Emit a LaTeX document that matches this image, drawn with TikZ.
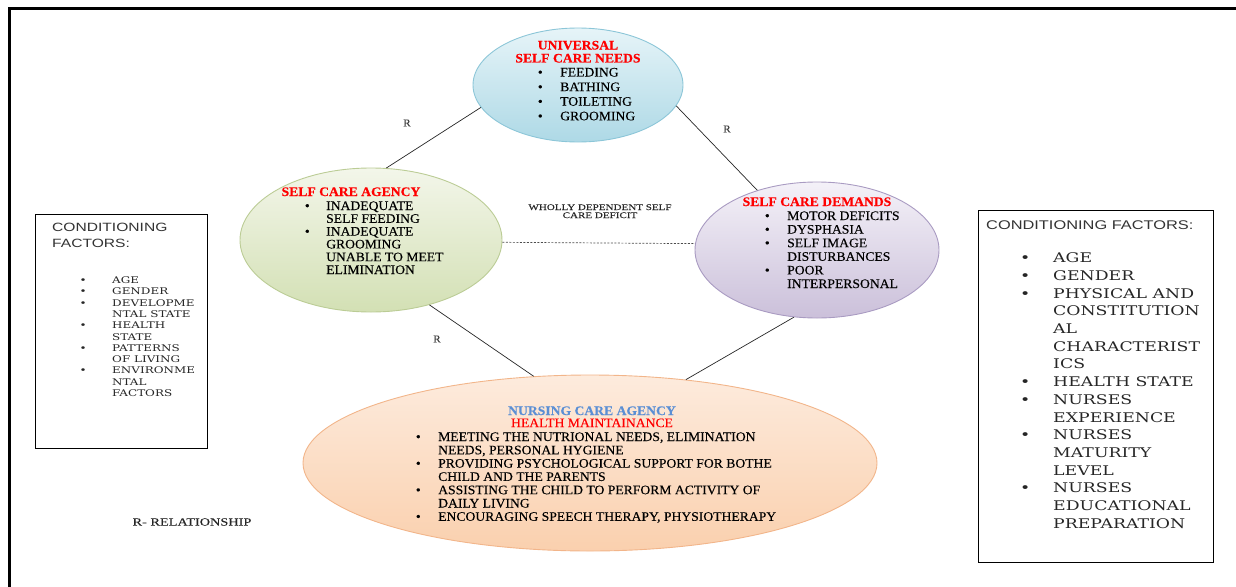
\documentclass[tikz,border=0pt]{standalone}
\usepackage{fontspec}
\usepackage{array}
\usepackage{tikz}
\usetikzlibrary{shapes.geometric}
\setmainfont[FakeStretch=1.05, FakeBold=0.2]{Liberation Serif}
\newfontfamily\sanswide[FakeStretch=1.3]{Liberation Sans}
\newfontfamily\serifwide[FakeStretch=1.3]{DejaVu Serif}
\newfontfamily\timeswide[FakeStretch=1.3, FakeBold=0.2]{Liberation Serif}

\definecolor{univtop}{HTML}{E6F4F8}
\definecolor{univbot}{HTML}{AED9E6}
\definecolor{univline}{HTML}{8CC6D8}
\definecolor{agentop}{HTML}{F3F6EA}
\definecolor{agenbot}{HTML}{D3E0B4}
\definecolor{agenline}{HTML}{BBCC95}
\definecolor{demtop}{HTML}{F4F1F8}
\definecolor{dembot}{HTML}{CBC0DA}
\definecolor{demline}{HTML}{A99BC2}
\definecolor{nurstop}{HTML}{FDEBDD}
\definecolor{nursbot}{HTML}{FAD0AE}
\definecolor{nursline}{HTML}{F2B58A}
\definecolor{nursblue}{HTML}{5B8FD4}

\tikzset{
  blob/.style={ellipse, inner sep=0pt, line width=0.9pt},
  ttl/.style={inner sep=0pt, anchor=base, text=red, font=\fontsize{13}{13}\selectfont\bfseries},
  txt/.style={inner sep=0pt, anchor=base west},
  rel/.style={draw=black!85, line width=0.7pt},
  rlabel/.style={inner sep=0pt, text=black!75, font=\fontsize{10.5}{11}\selectfont},
  factbox/.style={draw=black, line width=0.8pt, inner sep=0pt, anchor=north west},
}

\begin{document}
\begin{tikzpicture}[x=1pt,y=-1pt]
    \useasboundingbox (0,0) rectangle (1236,586);
    \draw[line width=3.5pt] (9.5,8.5) rectangle (1250,600); % frame

    % the four ellipses
    \node[blob, draw=univline, top color=univtop, bottom color=univbot,
          minimum width=210pt, minimum height=114pt] (univ) at (578,85) {};
    \node[blob, draw=agenline, top color=agentop, bottom color=agenbot,
          minimum width=262pt, minimum height=144pt] (agency) at (371,240) {};
    \node[blob, draw=demline, top color=demtop, bottom color=dembot,
          minimum width=244pt, minimum height=136pt] (demand) at (817,250) {};
    \node[blob, draw=nursline, top color=nurstop, bottom color=nursbot,
          minimum width=574pt, minimum height=176pt] (nursing) at (590,463) {};

    % relationships
    \draw[rel] (univ.193) -- (agency.78);
    \draw[rel] (univ.348) -- (demand.135);
    \draw[rel] (agency.312) -- (nursing.123);
    \draw[rel] (demand.251) -- (nursing.41);
    \draw[rel, draw=black!70, dash pattern=on 2pt off 1.5pt] (agency.-1) -- (demand.177);

    \node[rlabel] (r1) at (407,123) {R};
    \node[rlabel] (r2) at (727,129) {R};
    \node[rlabel] (r3) at (437,339) {R};
    \node[inner sep=0pt, anchor=base, text=black!85, font=\timeswide\fontsize{8.5}{8}\selectfont]
        (deficit) at (600,210) {\begin{tabular}[t]{@{}c@{}}WHOLLY DEPENDENT SELF\\CARE DEFICIT\end{tabular}};

    % universal self care needs
    \node[ttl] (univttl) at (578,49.5) {\begin{tabular}[t]{@{}c@{}}UNIVERSAL\\SELF CARE NEEDS\end{tabular}};
    \node[txt, font=\fontsize{13}{14.6}\selectfont] (univlist) at (537.7,76.5)
        {\begin{tabular}[t]{@{}w{l}{22.3pt}@{}l@{}}
        \textbullet & FEEDING\\
        \textbullet & BATHING\\
        \textbullet & TOILETING\\
        \textbullet & GROOMING
        \end{tabular}};

    % self care agency
    \node[ttl] (agenttl) at (351,196) {SELF CARE AGENCY};
    \node[txt, font=\fontsize{13}{12.8}\selectfont] (agenlist) at (304.7,210)
        {\begin{tabular}[t]{@{}w{l}{21.3pt}@{}l@{}}
        \textbullet & INADEQUATE\\
                    & SELF FEEDING\\
        \textbullet & INADEQUATE\\
                    & GROOMING\\
                    & UNABLE TO MEET\\
                    & ELIMINATION
        \end{tabular}};

    % self care demands
    \node[ttl] (demttl) at (817,206) {SELF CARE DEMANDS};
    \node[txt, font=\fontsize{13}{13.6}\selectfont] (demlist) at (764.7,220)
        {\begin{tabular}[t]{@{}w{l}{22.3pt}@{}l@{}}
        \textbullet & MOTOR DEFICITS\\
        \textbullet & DYSPHASIA\\
        \textbullet & SELF IMAGE\\
                    & DISTURBANCES\\
        \textbullet & POOR\\
                    & INTERPERSONAL
        \end{tabular}};

    % nursing care agency
    \node[ttl, font=\fontsize{13}{11.7}\selectfont] (nursttl) at (592,415)
        {\begin{tabular}[t]{@{}c@{}}\textcolor{nursblue}{\bfseries NURSING CARE AGENCY}\\{\mdseries HEALTH MAINTAINANCE}\end{tabular}};
    \node[txt, font=\fontsize{13}{13.3}\selectfont] (nurslist) at (415.7,441)
        {\begin{tabular}[t]{@{}w{l}{22.3pt}@{}l@{}}
        \textbullet & MEETING THE NUTRIONAL NEEDS, ELIMINATION\\
                    & NEEDS, PERSONAL HYGIENE\\
        \textbullet & PROVIDING PSYCHOLOGICAL SUPPORT FOR BOTHE\\
                    & CHILD AND THE PARENTS\\
        \textbullet & ASSISTING THE CHILD TO PERFORM ACTIVITY OF\\
                    & DAILY LIVING\\
        \textbullet & ENCOURAGING SPEECH THERAPY, PHYSIOTHERAPY
        \end{tabular}};

    \node[inner sep=0pt, text=black!85, font=\timeswide\fontsize{11}{12}\selectfont] (key) at (192,522) {R- RELATIONSHIP};

    % conditioning factors, left
    \node[factbox, minimum width=172pt, minimum height=234pt] (leftbox) at (35,214) {};
    \node[txt, text=black!80, font=\sanswide\fontsize{12}{16}\selectfont] (lefthead) at (52,231)
        {\begin{tabular}[t]{@{}l@{}}CONDITIONING\\FACTORS:\end{tabular}};
    \node[txt, text=black!85, font=\serifwide\fontsize{9.2}{11.3}\selectfont] (leftlist) at (79.5,283.5)
        {\begin{tabular}[t]{@{}w{l}{32.5pt}@{}l@{}}
        \textbullet & AGE\\
        \textbullet & GENDER\\
        \textbullet & DEVELOPME\\
                    & NTAL STATE\\
        \textbullet & HEALTH\\
                    & STATE\\
        \textbullet & PATTERNS\\
                    & OF LIVING\\
        \textbullet & ENVIRONME\\
                    & NTAL\\
                    & FACTORS
        \end{tabular}};

    % conditioning factors, right
    \node[factbox, minimum width=235pt, minimum height=352pt] (rightbox) at (978,210) {};
    \node[txt, text=black!80, font=\sanswide\fontsize{12.6}{14}\selectfont] (righthead) at (986,229)
        {CONDITIONING FACTORS:};
    \node[txt, text=black!85, font=\serifwide\fontsize{13.3}{17.7}\selectfont] (rightlist) at (1020,262.7)
        {\begin{tabular}[t]{@{}w{l}{33pt}@{}l@{}}
        \textbullet & AGE\\
        \textbullet & GENDER\\
        \textbullet & PHYSICAL AND\\
                    & CONSTITUTION\\
                    & AL\\
                    & CHARACTERIST\\
                    & ICS\\
        \textbullet & HEALTH STATE\\
        \textbullet & NURSES\\
                    & EXPERIENCE\\
        \textbullet & NURSES\\
                    & MATURITY\\
                    & LEVEL\\
        \textbullet & NURSES\\
                    & EDUCATIONAL\\
                    & PREPARATION
        \end{tabular}};
\end{tikzpicture}
\end{document}
